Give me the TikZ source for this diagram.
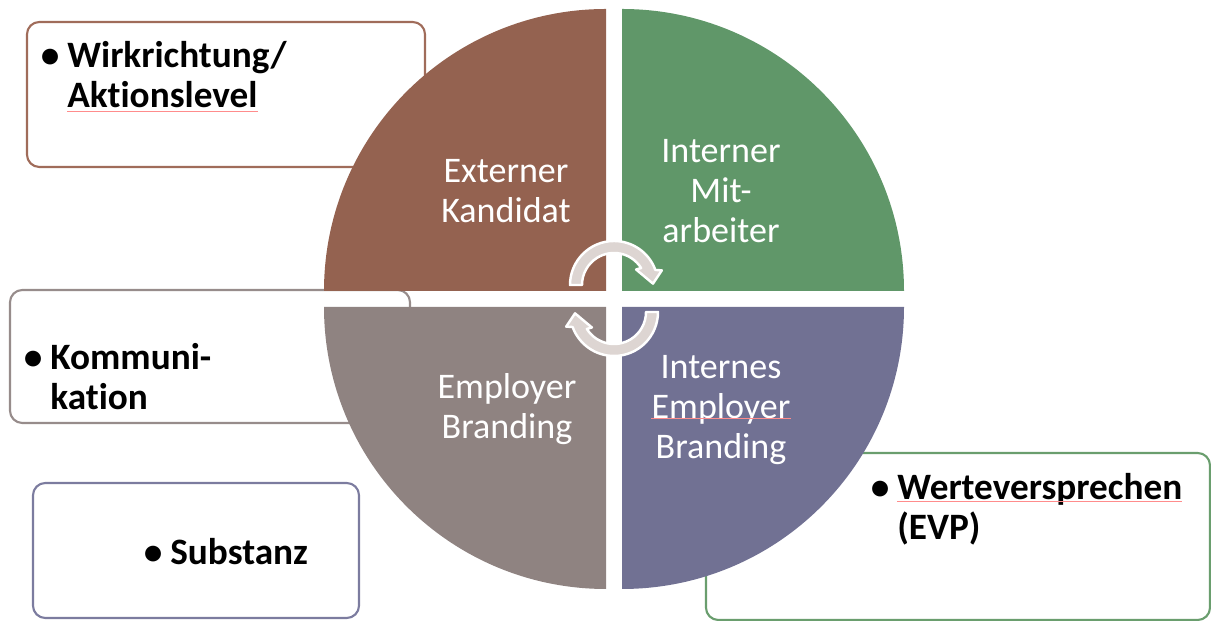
\documentclass[tikz,border=0pt]{standalone}
\usepackage{fontspec}
\setmainfont{Carlito}[Ligatures=NoCommon]
\definecolor{extcol}{HTML}{946250}
\definecolor{intcol}{HTML}{609769}
\definecolor{empcol}{HTML}{8F8381}
\definecolor{iebcol}{HTML}{717193}
\definecolor{arrowcol}{HTML}{DDD5D2}
\definecolor{boxbrown}{HTML}{A06C5A}
\definecolor{boxgrey}{HTML}{978C8B}
\definecolor{boxviolet}{HTML}{7C7C9F}
\definecolor{boxgreen}{HTML}{6A9E6E}
\tikzset{
  quadtext/.style={text=white, align=center, inner sep=0pt,
    font=\fontsize{20.5}{23}\selectfont},
  infobox/.style={draw=#1, fill=white, line width=1.2pt, rounded corners=7pt},
  infotext/.style={anchor=base west, align=left, inner sep=0pt,
    font=\fontsize{21.2}{23}\selectfont\bfseries},
  cyclearrow/.style={fill=arrowcol, draw=white, line width=1.4pt},
  spellmark/.style={draw=red!45, line width=0.5pt}
}
\newcommand{\bul}{\llap{•\hspace{4.5pt}}}
\begin{document}
\begin{tikzpicture}[x=0.02cm, y=0.02cm, line join=round]
\useasboundingbox (0,0) rectangle (1211,621);
% boxes behind the circle
\draw[infobox=boxbrown] (27,454) rectangle (425,599);
\draw[infobox=boxgrey] (10,198) rectangle (410,331);
\draw[infobox=boxviolet] (33,3) rectangle (359,138);
\draw[infobox=boxgreen] (706,1) rectangle (1210,168);
% four quarters
\foreach \cx/\cy/\a/\col in {606/330/90/extcol, 622/330/0/intcol,
    606/314/180/empcol, 622/314/270/iebcol}
  \fill[\col] (\cx,\cy) -- ++(\a:282) arc[start angle=\a, delta angle=90, radius=282] -- cycle;
% cycle arrows
\foreach \cy/\rot in {336/0, 309/180}
  \draw[cyclearrow, shift={(614,\cy)}, rotate=\rot] (180:44)
    arc[start angle=180, end angle=20, radius=44] -- (17:50) -- (2:39)
    -- (35:27) -- (32:32) arc[start angle=32, end angle=180, radius=32] -- cycle;
% labels (base = last line)
\node[quadtext] (ext) at (506,430) {Externer\\Kandidat};
\node[quadtext] (int) at (721,430) {Interner\\Mit-\\arbeiter};
\node[quadtext] (emp) at (507,212) {Employer\\Branding};
\node[quadtext] (ieb) at (721,211) {Internes\\Employer\\Branding};
\node[infotext] (wirk) at (67,513) {\bul Wirkrichtung/\\Aktionslevel};
\node[infotext] (komm) at (50,211) {\bul Kommuni-\\kation};
\node[infotext] (subst) at (170,56) {\bul Substanz};
\node[infotext] (werte) at (897,81) {\bul Werteversprechen\\(EVP)};
% spelling marks
\draw[spellmark] (67,510) -- (258,510);
\draw[spellmark] (897,120) -- (1182,120);
\draw[spellmark] (651,203) -- (791,203);
\end{tikzpicture}
\end{document}
